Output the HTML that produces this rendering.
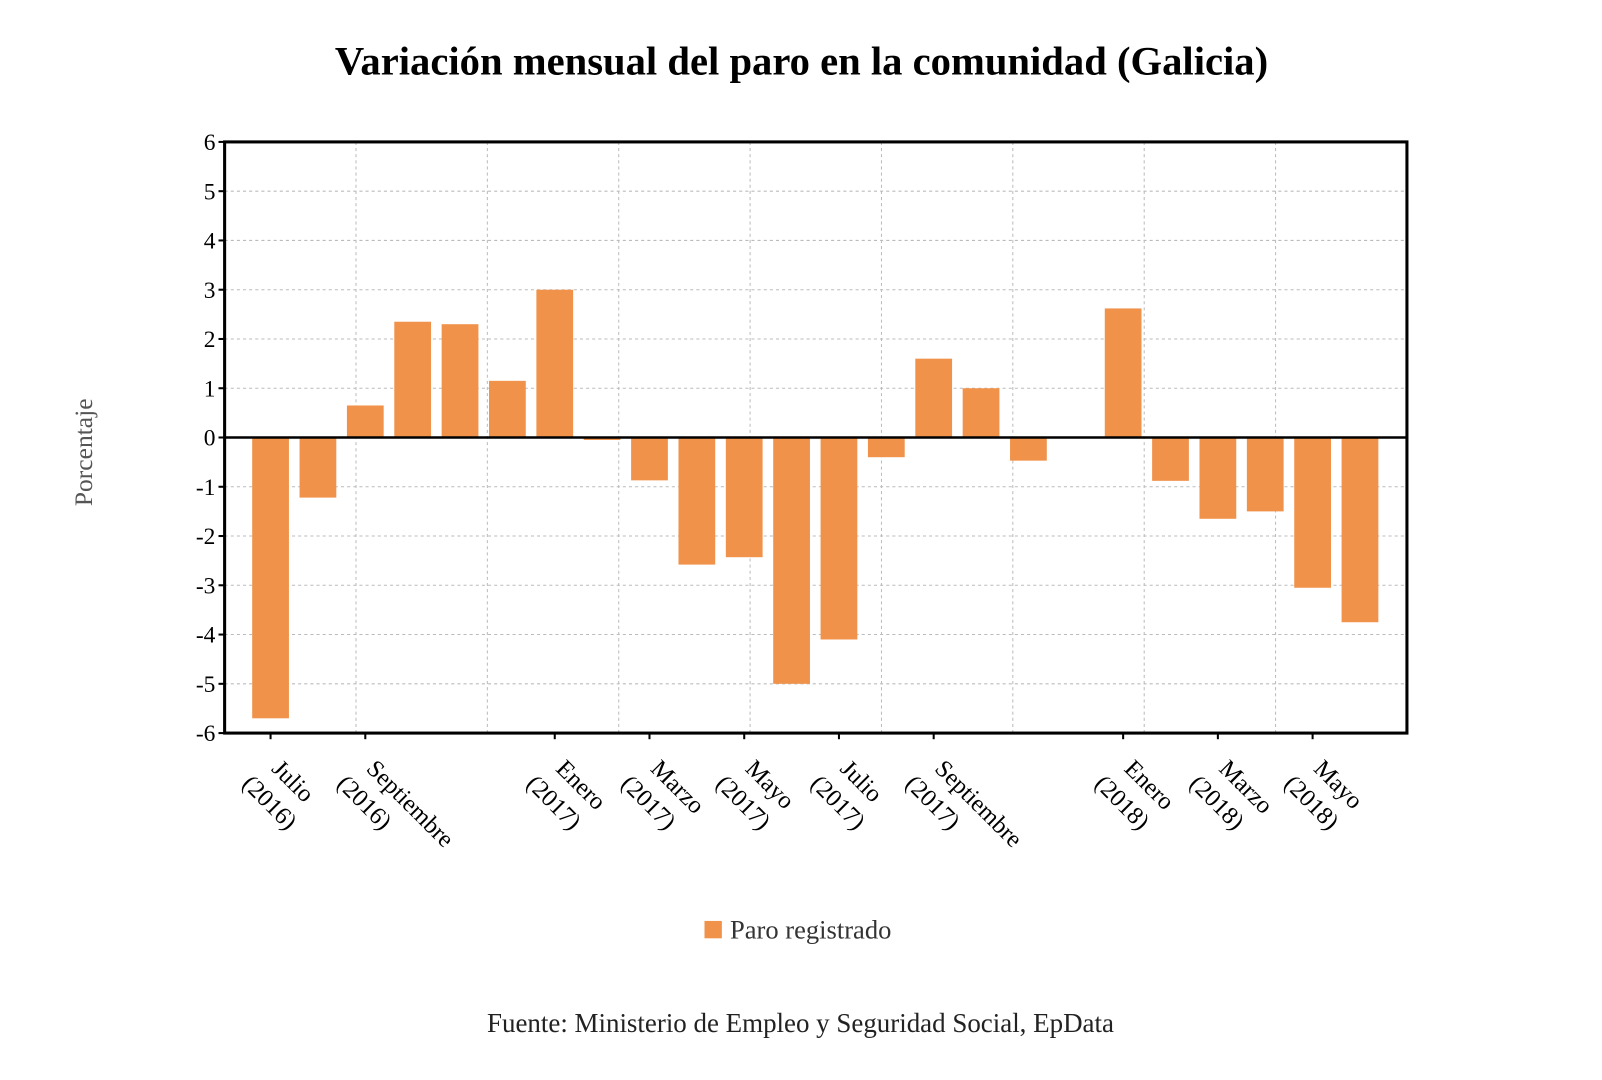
<!DOCTYPE html>
<html><head><meta charset="utf-8"><style>
body{margin:0;background:#fff;}
svg{display:block;font-family:"Liberation Serif",serif;}
</style></head><body>
<svg id="chart" width="1602" height="1080">
<g transform="scale(1.021)">
<text x="785" y="73" text-anchor="middle" font-size="39.8" font-weight="bold">Variación mensual del paro en la comunidad (Galicia)</text>
<g id="grid"></g>
<g id="bars"></g>
<g id="axes"></g>
<text transform="translate(90,443) rotate(-90)" text-anchor="middle" font-size="25" fill="#555">Porcentaje</text>
<rect x="690" y="902" width="17" height="17" fill="#f0924a"/>
<text x="715" y="919" font-size="26" fill="#333">Paro registrado</text>
<text x="784" y="1011" text-anchor="middle" font-size="26.4" fill="#222">Fuente: Ministerio de Empleo y Seguridad Social, EpData</text>
</g>
</svg>
<script>
const values=[-5.7,-1.22,0.65,2.35,2.3,1.15,3.0,-0.05,-0.87,-2.58,-2.43,-5.0,-4.1,-0.4,1.6,1.0,-0.47,0,2.62,-0.88,-1.65,-1.5,-3.05,-3.75];
const yTicks=[6,5,4,3,2,1,0,-1,-2,-3,-4,-5,-6];
const labelIdx=[0,2,6,8,10,12,14,18,20,22];
const labelText=[["Julio","(2016)"],["Septiembre","(2016)"],["Enero","(2017)"],["Marzo","(2017)"],["Mayo","(2017)"],["Julio","(2017)"],["Septiembre","(2017)"],["Enero","(2018)"],["Marzo","(2018)"],["Mayo","(2018)"]];
const NS="http://www.w3.org/2000/svg";
const L=220,R=1378,T=139,B=718;
const y=v=>T+(6-v)*(B-T)/12;
const x=i=>265+i*(1332-265)/23;
function mk(tag,attrs,parent){const e=document.createElementNS(NS,tag);for(const k in attrs)e.setAttribute(k,attrs[k]);parent.appendChild(e);return e;}
const grid=document.getElementById('grid'),bars=document.getElementById('bars'),axes=document.getElementById('axes');
yTicks.forEach(t=>{
 const g=mk('line',{x1:L,x2:R,y1:y(t),y2:y(t),stroke:'#bbb','stroke-dasharray':'3,3'},grid);
 
 
 const tl=mk('line',{x1:L-6,x2:L,y1:y(t),y2:y(t),stroke:'#000','stroke-width':2},axes);
 
 
 const tx=mk('text',{x:L-9,y:y(t)+8,'text-anchor':'end','font-size':23},axes);
 tx.textContent=t;
 
 
});
for(let k=1;k<9;k++){
 const gx=L+k*(R-L)/9;
 const g=mk('line',{x1:gx,x2:gx,y1:T,y2:B,stroke:'#bbb','stroke-dasharray':'3,3'},grid);
 
 
}
values.forEach((v,i)=>{
 const r=mk('rect',{x:x(i)-18,width:36,y:Math.min(y(v),y(0)),height:Math.abs(y(v)-y(0)),fill:'#f0924a'},bars);
 
 
});
const fr=mk('rect',{x:L,y:T,width:R-L,height:B-T,fill:'none',stroke:'#000','stroke-width':3},axes);


const z=mk('line',{x1:L,x2:R,y1:y(0),y2:y(0),stroke:'#000','stroke-width':2.5},axes);


labelIdx.forEach((idx,j)=>{
 const px=x(idx);
 const tk=mk('line',{x1:px,x2:px,y1:B,y2:B+6,stroke:'#000','stroke-width':2},axes);
 
 
 const t=mk('text',{transform:`translate(${px},${B+36}) rotate(45)`,'font-size':24,'text-anchor':'start'},axes);
 
 
 const a=mk('tspan',{x:0,y:0},t);a.textContent=labelText[j][0];
 const b=mk('tspan',{x:-10,y:31},t);b.textContent=labelText[j][1];
});
</script>
</body></html>
